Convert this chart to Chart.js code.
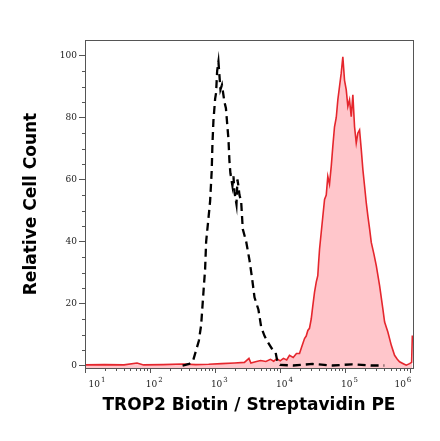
<!DOCTYPE html>
<html>
<head>
<meta charset="utf-8">
<script src="https://cdn.jsdelivr.net/npm/chart.js@4.4.1/dist/chart.umd.min.js"></script>
<style>
  html, body { margin: 0; padding: 0; background: #fff; }
  #wrap { width: 440px; height: 441px; }
</style>
</head>
<body>
<div id="wrap"><canvas id="c" width="440" height="441"></canvas></div>
<script>
// ---- Data (x given as log10 of fluorescence intensity) ----
const isotypeLogFL = [2.50, 2.60, 2.66, 2.708, 2.75, 2.785, 2.825, 2.846, 2.862, 2.90, 2.923, 2.948, 2.958, 2.974, 3.00, 3.015, 3.031, 3.051, 3.082, 3.105, 3.143, 3.166, 3.189, 3.205, 3.22, 3.235, 3.266, 3.282, 3.297, 3.328, 3.343, 3.358, 3.374, 3.40, 3.425, 3.477, 3.528, 3.569, 3.605, 3.666, 3.708, 3.76, 3.809, 3.87, 3.928, 3.96, 4.0, 4.2, 4.5, 4.8, 5.1, 5.4, 5.6];
const isotypeCount = [0, 0.5, 1.5, 4.9, 8, 13, 25, 31, 40, 48, 53, 63, 71, 79, 86, 88, 95, 98, 89, 90.5, 85, 83, 77, 73, 66, 62, 58, 61, 56, 52, 60, 58, 55, 53, 44, 40, 34, 28, 22, 18, 12.4, 9.5, 7.6, 5.5, 4.4, 1, 0.2, 0, 0.5, 0, 0.4, 0, 0];

const trop2LogFL = [1.0, 1.3, 1.6, 1.8, 1.9, 2.2, 2.5, 2.7, 2.9, 3.1, 3.3, 3.45, 3.52, 3.55, 3.62, 3.7, 3.78, 3.85, 3.9, 3.95, 4.0, 4.05, 4.1, 4.143, 4.2, 4.25, 4.297, 4.33, 4.374, 4.4, 4.425, 4.45, 4.477, 4.50, 4.528, 4.555, 4.578, 4.59, 4.605, 4.631, 4.655, 4.682, 4.708, 4.732, 4.758, 4.785, 4.809, 4.835, 4.862, 4.886, 4.912, 4.938, 4.963, 4.989, 5.015, 5.040, 5.066, 5.092, 5.117, 5.143, 5.169, 5.194, 5.220, 5.246, 5.271, 5.297, 5.323, 5.348, 5.375, 5.40, 5.44, 5.477, 5.528, 5.578, 5.605, 5.655, 5.708, 5.758, 5.80, 5.835, 5.9, 5.938, 5.989, 6.02, 6.031];
const trop2Count = [0.2, 0.3, 0.2, 0.8, 0.2, 0.3, 0.5, 0.3, 0.4, 0.6, 0.8, 1.0, 2.3, 0.8, 1.2, 1.6, 1.3, 2.0, 1.4, 2.2, 1.5, 2.3, 1.8, 3.3, 2.6, 3.9, 3.9, 6, 8.7, 9.5, 11.3, 12, 15, 19, 23.7, 27, 29, 33, 37.5, 43, 48, 53.6, 55, 61, 58.5, 64.3, 70.7, 77, 80, 85.7, 90, 94.3, 99.6, 92, 89, 83.6, 85.7, 80.3, 87.3, 77, 71.8, 75, 76, 69.7, 63.2, 57.9, 52.5, 48.2, 44, 39.7, 36, 32.2, 25.8, 18.3, 14, 10.8, 6.5, 3.3, 2, 1.2, 0.5, 0.1, 0.6, 1, 9.7];

const xTickValues = [1e1, 1e2, 1e3, 1e4, 1e5, 1e6];
const xTickBases = ['10', '10', '10', '10', '10', '10'];
const xTickExponents = ['1', '2', '3', '4', '5', '6'];
const xMinorMultipliers = [2, 3, 4, 5, 6, 7, 8, 9];
const yTickValues = [0, 20, 40, 60, 80, 100];
const yMinorTicks = [5, 10, 15, 25, 30, 35, 45, 50, 55, 65, 70, 75, 85, 90, 95];

const toPoints = (logs, counts) => logs.map((l, i) => ({ x: Math.pow(10, l), y: counts[i] }));

const AXIS_COLOR = '#555';

const framePlugin = {
  id: 'frame',
  afterDraw(chart) {
    const { ctx, chartArea: a, scales } = chart;
    ctx.save();
    ctx.strokeStyle = AXIS_COLOR;
    ctx.lineWidth = 1;
    ctx.strokeRect(a.left + 0.5, a.top + 0.5, a.right - a.left, a.bottom - a.top);
    // minor ticks
    ctx.beginPath();
    yMinorTicks.forEach(v => {
      const py = Math.round(scales.y.getPixelForValue(v)) + 0.5;
      ctx.moveTo(a.left - 3, py);
      ctx.lineTo(a.left, py);
    });
    for (let d = 1; d < 6; d++) {
      xMinorMultipliers.forEach(k => {
        const v = k * Math.pow(10, d);
        if (v > scales.x.max) return;
        const px = Math.round(scales.x.getPixelForValue(v)) + 0.5;
        ctx.moveTo(px, a.bottom);
        ctx.lineTo(px, a.bottom + 3);
      });
    }
    ctx.stroke();
    // x tick labels: base "10" with superscript exponent
    ctx.fillStyle = '#222';
    ctx.textBaseline = 'alphabetic';
    ctx.textAlign = 'left';
    const baseFont = '9px "DejaVu Serif"';
    const supFont = '7px "DejaVu Serif"';
    const baseY = a.bottom + 19;
    xTickValues.forEach((v, i) => {
      const px = scales.x.getPixelForValue(v);
      ctx.font = baseFont;
      const bw = ctx.measureText(xTickBases[i]).width;
      ctx.font = supFont;
      const sw = ctx.measureText(xTickExponents[i]).width;
      let x0;
      if (i === 0) x0 = px + 3.5;
      else if (i === xTickValues.length - 1) x0 = px + 1 - (bw + 1 + sw);
      else x0 = px + 1.5 - bw / 2;
      ctx.font = baseFont;
      ctx.fillText(xTickBases[i], x0, baseY);
      ctx.font = supFont;
      ctx.fillText(xTickExponents[i], x0 + bw + 1, baseY - 5);
    });
    ctx.restore();
  }
};

new Chart(document.getElementById('c'), {
  type: 'line',
  data: {
    datasets: [
      {
        label: 'Isotype',
        data: toPoints(isotypeLogFL, isotypeCount),
        borderColor: '#000',
        borderWidth: 2.3,
        borderDash: [8, 5],
        pointRadius: 0,
        fill: false,
        tension: 0,
        order: 0
      },
      {
        label: 'TROP2',
        data: toPoints(trop2LogFL, trop2Count),
        borderColor: '#E5262D',
        backgroundColor: '#FFC6CB',
        borderWidth: 1.6,
        pointRadius: 0,
        fill: 'start',
        tension: 0,
        order: 1
      }
    ]
  },
  options: {
    responsive: false,
    animation: false,
    devicePixelRatio: 1,
    layout: { padding: { top: 40, right: 27, left: 0, bottom: 0 } },
    plugins: { legend: { display: false }, tooltip: { enabled: false } },
    scales: {
      x: {
        type: 'logarithmic',
        position: 'bottom',
        min: 10,
        max: 1.1e6,
        afterBuildTicks: s => { s.ticks = xTickValues.map(v => ({ value: v })); },
        afterFit: s => { s.height = 73; },
        grid: { display: true, drawOnChartArea: false, drawTicks: true, tickLength: 5, color: AXIS_COLOR, tickColor: AXIS_COLOR },
        border: { display: true, color: AXIS_COLOR, width: 1 },
        ticks: { display: false },
        title: {
          display: true, text: 'TROP2 Biotin / Streptavidin PE', color: '#000',
          font: { family: 'DejaVu Sans', weight: 'bold', size: 17 },
          padding: { top: 0, bottom: 25 }
        }
      },
      y: {
        type: 'linear',
        min: -0.8,
        max: 105,
        afterBuildTicks: s => { s.ticks = yTickValues.map(v => ({ value: v })); },
        afterFit: s => { s.width = 85; },
        grid: { display: true, drawOnChartArea: false, drawTicks: true, tickLength: 6, color: AXIS_COLOR, tickColor: AXIS_COLOR },
        border: { display: true, color: AXIS_COLOR, width: 1 },
        ticks: { padding: 2, font: { family: 'DejaVu Serif', size: 9 }, color: '#222' },
        title: {
          display: true, text: 'Relative Cell Count', color: '#000',
          font: { family: 'DejaVu Sans', weight: 'bold', size: 17 },
          padding: { top: 21, bottom: 0 }
        }
      }
    }
  },
  plugins: [framePlugin]
});
</script>
</body>
</html>
